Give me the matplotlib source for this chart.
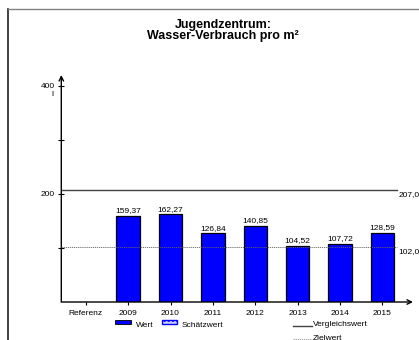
import matplotlib
matplotlib.use("Agg")
import matplotlib.pyplot as plt
from matplotlib.patches import Rectangle
from matplotlib.lines import Line2D

plt.rcParams['font.family'] = ['Liberation Sans', 'DejaVu Sans']

categories = ["Referenz", "2009", "2010", "2011", "2012", "2013", "2014", "2015"]
values = [None, 159.37, 162.27, 126.84, 140.85, 104.52, 107.72, 128.59]
vergleichswert = 207.0
zielwert = 102.0
y_ticks = [100, 200, 300, 400]
y_labels = ["", "200", "", "400"]

W, H = 419, 340
fig = plt.figure(figsize=(W / 100, H / 100), dpi=100)


def fx(px):
    return px / W


def fy(py):
    return 1 - py / H


# outer frame (cut off at right/bottom)
fig.add_artist(Line2D([fx(8), fx(8)], [fy(9), fy(345)], color="#202020", lw=1.2))
fig.add_artist(Line2D([fx(8), fx(425)], [fy(9), fy(9)], color="#808080", lw=1.0))

fig.text(fx(223), fy(25), "Jugendzentrum:", ha="center", va="center",
         fontsize=9, fontweight="bold")
fig.text(fx(223), fy(36.5), "Wasser-Verbrauch pro m²", ha="center", va="center",
         fontsize=9, fontweight="bold")

ax = fig.add_axes([fx(61.3), fy(302), fx(413) - fx(61.3), fy(75) - fy(302)])
x = list(range(len(categories)))
ax.set_xlim(-0.576, 7.72)
ax.set_ylim(0, 420)

for xi, v in zip(x, values):
    if v is None:
        continue
    ax.bar(xi, v, width=0.55, color="#0000ff", edgecolor="black", linewidth=0.9, zorder=3)
    ax.annotate(f"{v:.2f}".replace(".", ","), (xi, v), xytext=(0, 1),
                textcoords="offset points", ha="center", va="bottom", fontsize=6)

xend = 7.35
ax.plot([-0.576, xend], [vergleichswert, vergleichswert], color="#404040", lw=1.0, zorder=2)
ax.plot([-0.576, xend], [zielwert, zielwert], color="#606060", lw=0.6,
        linestyle=(0, (1.5, 1)), zorder=4)
ax.text(xend + 0.02, vergleichswert - 2, f"{vergleichswert:.1f}".replace(".", ","),
        ha="left", va="top", fontsize=6, clip_on=False)
ax.text(xend + 0.02, zielwert - 2, f"{zielwert:.1f}".replace(".", ","),
        ha="left", va="top", fontsize=6, clip_on=False)

for s in ax.spines.values():
    s.set_visible(False)
ax.patch.set_alpha(0)

ax.annotate("", xy=(0, 1.0), xytext=(0, 0), xycoords="axes fraction",
            arrowprops=dict(arrowstyle="->", color="black", lw=1.0,
                            shrinkA=0, shrinkB=0, mutation_scale=8))
ax.annotate("", xy=(1.0, 0), xytext=(0, 0), xycoords="axes fraction",
            arrowprops=dict(arrowstyle="->", color="black", lw=1.0,
                            shrinkA=0, shrinkB=0, mutation_scale=8))

ax.set_yticks(y_ticks)
ax.set_yticklabels(y_labels, fontsize=6)
ax.tick_params(axis="y", direction="inout", length=5, width=0.8, pad=2)
ax.set_xticks(x)
ax.set_xticklabels(categories, fontsize=6)
ax.tick_params(axis="x", direction="out", length=2.5, width=0.8, pad=3)
fig.text(fx(52), fy(94), "l", ha="center", va="center", fontsize=6)

# legend
fig.add_artist(Rectangle((fx(115), fy(324)), fx(15.5), fy(320) - fy(324),
                         facecolor="#0000ff", edgecolor="black", lw=0.6))
fig.text(fx(136), fy(325.5), "Wert", ha="left", va="center", fontsize=6)
fig.add_artist(Rectangle((fx(162), fy(324)), fx(14.5), fy(320) - fy(324),
                         facecolor="#c8d0f0", edgecolor="#0000ff", lw=1.0, hatch="...."))
fig.text(fx(182), fy(325.5), "Schätzwert", ha="left", va="center", fontsize=6)
fig.add_artist(Line2D([fx(293), fx(312)], [fy(325.5), fy(325.5)], color="#404040", lw=1.0))
fig.text(fx(313), fy(325), "Vergleichswert", ha="left", va="center", fontsize=6)
fig.add_artist(Line2D([fx(293), fx(312)], [fy(338.5), fy(338.5)], color="#909090", lw=0.6,
                      linestyle=(0, (1.5, 1))))
fig.text(fx(313), fy(338.5), "Zielwert", ha="left", va="center", fontsize=6)

fig.savefig("out.png", dpi=100)
